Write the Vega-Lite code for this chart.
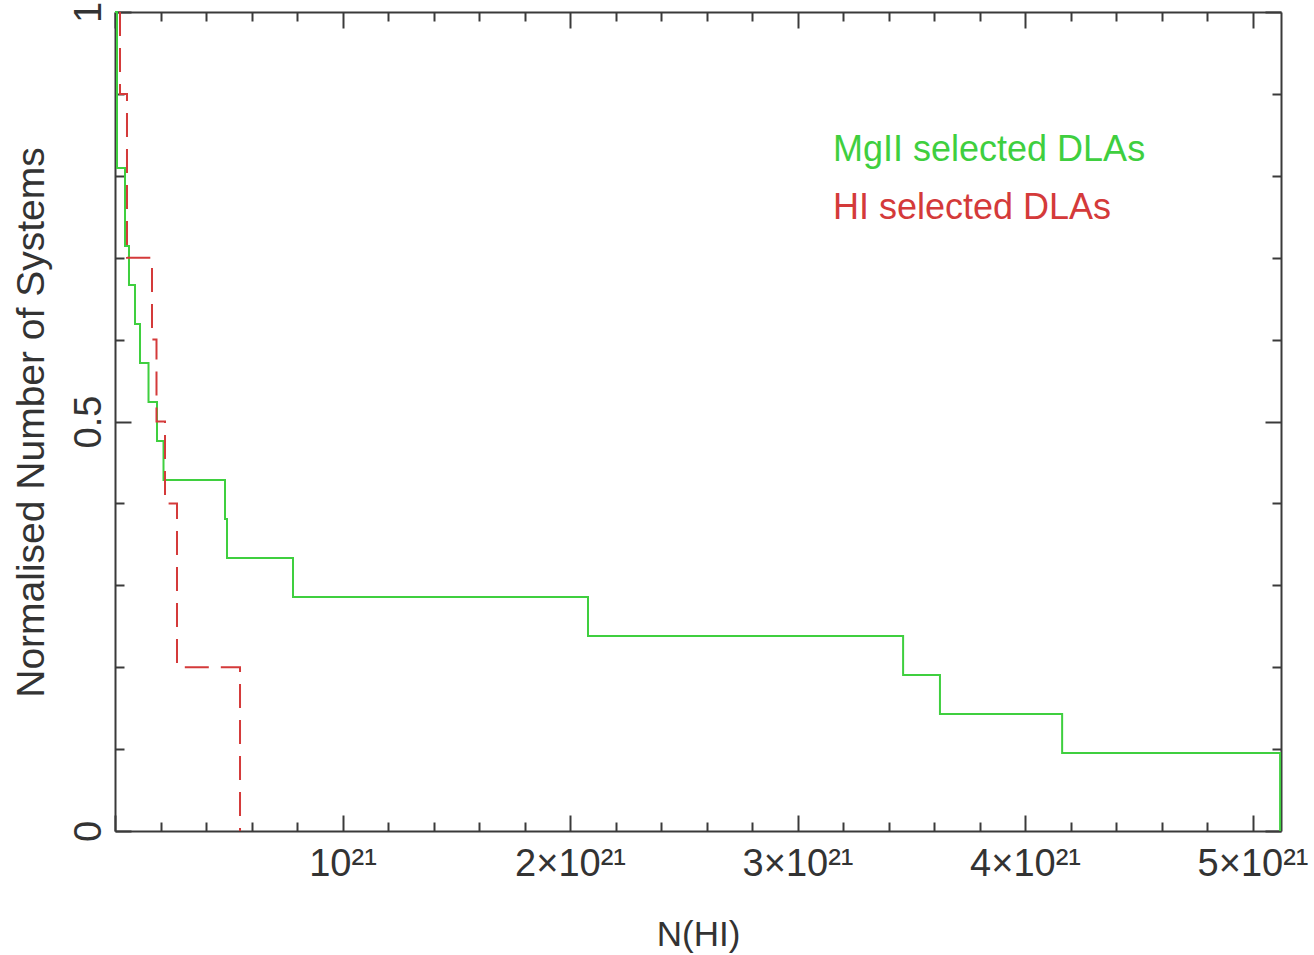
{
  "$schema": "https://vega.github.io/schema/vega-lite/v6.json",
  "width": 1166,
  "height": 819,
  "autosize": {"type": "none"},
  "padding": {"left": 115, "top": 12, "right": 33, "bottom": 124},
  "background": "white",
  "config": {
    "view": {"stroke": null},
    "font": "Liberation Sans",
    "axis": {"grid": false, "domain": false, "labels": false, "ticks": true, "tickColor": "#3a3a3a", "tickWidth": 2, "domainColor": "#3a3a3a", "domainWidth": 2, "zindex": 1}
  },
  "datasets": {
    "green": [
      {"i": 0, "N": 0, "f": 1, "s": "MgII selected DLAs"},
      {"i": 1, "N": 8.8e18, "f": 0.8095, "s": "MgII selected DLAs"},
      {"i": 2, "N": 4.4e19, "f": 0.7143, "s": "MgII selected DLAs"},
      {"i": 3, "N": 6.15e19, "f": 0.6667, "s": "MgII selected DLAs"},
      {"i": 4, "N": 8.79e19, "f": 0.619, "s": "MgII selected DLAs"},
      {"i": 5, "N": 1.099e20, "f": 0.5714, "s": "MgII selected DLAs"},
      {"i": 6, "N": 1.473e20, "f": 0.5238, "s": "MgII selected DLAs"},
      {"i": 7, "N": 1.846e20, "f": 0.4762, "s": "MgII selected DLAs"},
      {"i": 8, "N": 2.132e20, "f": 0.4286, "s": "MgII selected DLAs"},
      {"i": 9, "N": 4.835e20, "f": 0.381, "s": "MgII selected DLAs"},
      {"i": 10, "N": 4.923e20, "f": 0.3333, "s": "MgII selected DLAs"},
      {"i": 11, "N": 7.824e20, "f": 0.2857, "s": "MgII selected DLAs"},
      {"i": 12, "N": 2.079e21, "f": 0.2381, "s": "MgII selected DLAs"},
      {"i": 13, "N": 3.464e21, "f": 0.1905, "s": "MgII selected DLAs"},
      {"i": 14, "N": 3.626e21, "f": 0.1429, "s": "MgII selected DLAs"},
      {"i": 15, "N": 4.163e21, "f": 0.0952, "s": "MgII selected DLAs"},
      {"i": 16, "N": 5.121e21, "f": 0, "s": "MgII selected DLAs"}
    ],
    "red": [
      {"i": 0, "N": 2.2e19, "f": 1, "s": "HI selected DLAs"},
      {"i": 1, "N": 2.2e19, "f": 0.9, "s": "HI selected DLAs"},
      {"i": 2, "N": 5.27e19, "f": 0.7, "s": "HI selected DLAs"},
      {"i": 3, "N": 1.626e20, "f": 0.6, "s": "HI selected DLAs"},
      {"i": 4, "N": 1.824e20, "f": 0.5, "s": "HI selected DLAs"},
      {"i": 5, "N": 2.198e20, "f": 0.4, "s": "HI selected DLAs"},
      {"i": 6, "N": 2.725e20, "f": 0.2, "s": "HI selected DLAs"},
      {"i": 7, "N": 5.495e20, "f": 0, "s": "HI selected DLAs"}
    ]
  },
  "layer": [
    {
      "data": {"name": "green"},
      "mark": {"type": "line", "interpolate": "step-after", "strokeWidth": 2},
      "encoding": {
        "x": {"field": "N", "type": "quantitative",
          "scale": {"domain": [0, 5.125e21], "nice": false, "zero": false},
          "axis": {"orient": "bottom", "values": [1e21, 2e21, 3e21, 4e21, 5e21], "ticks": false, "labels": true,
            "labelExpr": "datum.value < 1.5e21 ? '10²¹' : format(datum.value / 1e21, 'd') + '×10²¹'",
            "labelFontSize": 38, "labelColor": "#333333", "labelPadding": 14, "labelFlush": false, "labelBaseline": "top", "labelOverlap": false,
            "title": "N(HI)", "titleFontSize": 35, "titleFontWeight": "normal", "titleColor": "#333333",
            "titleX": 583, "titleY": 114, "titleBaseline": "alphabetic", "titleAlign": "center"}},
        "y": {"field": "f", "type": "quantitative",
          "scale": {"domain": [0, 1], "nice": false},
          "axis": {"orient": "left", "values": [0, 0.5, 1], "ticks": false, "labels": true,
            "labelExpr": "toString(datum.value)", "labelAngle": -90, "labelAlign": "center", "labelBaseline": "alphabetic",
            "labelPadding": 15, "labelFontSize": 38, "labelColor": "#333333", "labelFlush": false, "labelOverlap": false,
            "title": "Normalised Number of Systems", "titleFontSize": 39, "titleFontWeight": "normal", "titleColor": "#333333",
            "titleX": -72, "titleY": 410, "titleAngle": -90, "titleBaseline": "alphabetic", "titleAlign": "center"}},
        "order": {"field": "i", "type": "quantitative"},
        "color": {"field": "s", "type": "nominal",
          "scale": {"domain": ["MgII selected DLAs", "HI selected DLAs"], "range": ["#3fcf3f", "#d43a3a"]},
          "legend": {"orient": "none", "direction": "vertical", "legendX": 682, "legendY": 120, "title": null,
            "symbolOpacity": 0, "symbolSize": 0, "symbolStrokeWidth": 0, "labelOffset": 0, "labelFontSize": 36,
            "rowPadding": 22, "padding": 0, "labelLimit": 0,
            "encode": {"labels": {"update": {"fill": {"scale": "color", "field": "value"}}}}}}
      }
    },
    {
      "data": {"name": "red"},
      "mark": {"type": "line", "interpolate": "step-after", "strokeWidth": 2, "strokeDash": [24, 12]},
      "encoding": {
        "x": {"field": "N", "type": "quantitative",
          "axis": {"orient": "bottom", "values": [0, 1e21, 2e21, 3e21, 4e21, 5e21], "tickSize": -16, "domain": true, "title": null}},
        "y": {"field": "f", "type": "quantitative",
          "axis": {"orient": "left", "values": [0, 0.5, 1], "tickSize": -16, "domain": true, "title": null}},
        "order": {"field": "i", "type": "quantitative"},
        "color": {"field": "s", "type": "nominal", "legend": null}
      }
    },
    {
      "data": {"name": "green"},
      "mark": {"type": "line", "strokeOpacity": 0},
      "encoding": {
        "x": {"field": "N", "type": "quantitative",
          "axis": {"orient": "bottom", "values": [2e20, 4e20, 6e20, 8e20, 1.2e21, 1.4e21, 1.6e21, 1.8e21, 2.2e21, 2.4e21, 2.6e21, 2.8e21, 3.2e21, 3.4e21, 3.6e21, 3.8e21, 4.2e21, 4.4e21, 4.6e21, 4.8e21], "tickSize": -9, "title": null}},
        "y": {"field": "f", "type": "quantitative",
          "axis": {"orient": "left", "values": [0.1, 0.2, 0.3, 0.4, 0.6, 0.7, 0.8, 0.9], "tickSize": -9, "title": null}}
      }
    },
    {
      "data": {"name": "green"},
      "mark": {"type": "line", "strokeOpacity": 0},
      "encoding": {
        "x": {"field": "N", "type": "quantitative",
          "axis": {"orient": "top", "values": [0, 1e21, 2e21, 3e21, 4e21, 5e21], "tickSize": -16, "domain": true, "title": null}},
        "y": {"field": "f", "type": "quantitative",
          "axis": {"orient": "right", "values": [0, 0.5, 1], "tickSize": -16, "domain": true, "title": null}}
      }
    },
    {
      "data": {"name": "green"},
      "mark": {"type": "line", "strokeOpacity": 0},
      "encoding": {
        "x": {"field": "N", "type": "quantitative",
          "axis": {"orient": "top", "values": [2e20, 4e20, 6e20, 8e20, 1.2e21, 1.4e21, 1.6e21, 1.8e21, 2.2e21, 2.4e21, 2.6e21, 2.8e21, 3.2e21, 3.4e21, 3.6e21, 3.8e21, 4.2e21, 4.4e21, 4.6e21, 4.8e21], "tickSize": -9, "title": null}},
        "y": {"field": "f", "type": "quantitative",
          "axis": {"orient": "right", "values": [0.1, 0.2, 0.3, 0.4, 0.6, 0.7, 0.8, 0.9], "tickSize": -9, "title": null}}
      }
    }
  ],
  "resolve": {"axis": {"x": "independent", "y": "independent"}}
}
